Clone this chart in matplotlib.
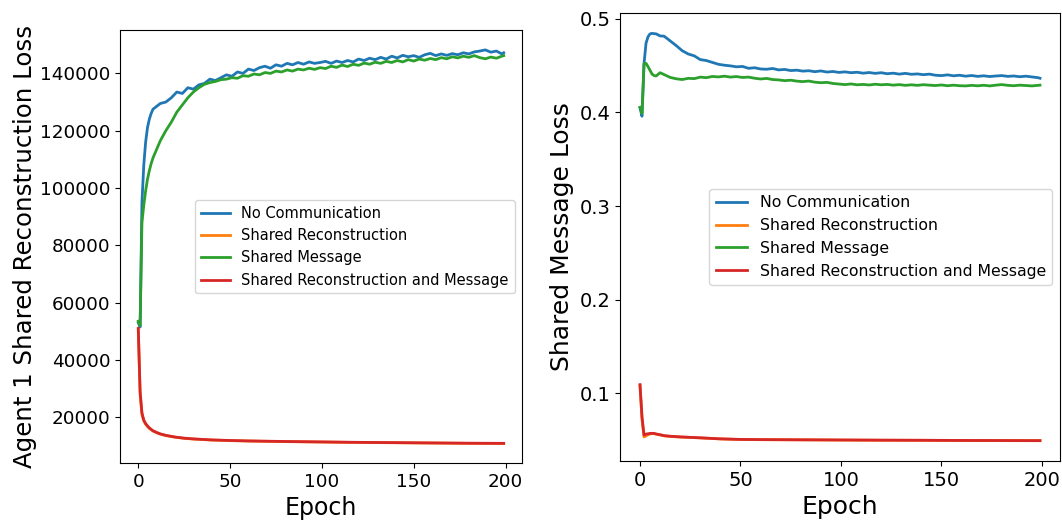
import matplotlib
matplotlib.use('Agg')
import matplotlib.pyplot as plt

epochs = [0, 1, 2, 3, 4, 5, 6, 7, 8, 10,
          12, 15, 18, 21, 24, 27, 30, 33, 36, 39,
          42, 45, 48, 51, 54, 57, 60, 63, 66, 69,
          72, 75, 78, 81, 84, 87, 90, 93, 96, 99,
          102, 105, 108, 111, 114, 117, 120, 123, 126, 129,
          132, 135, 138, 141, 144, 147, 150, 153, 156, 159,
          162, 165, 168, 171, 174, 177, 180, 183, 186, 189,
          192, 195, 198, 199]

# the smooth curves need fewer points
epochs_smooth = [0, 1, 2, 3, 4, 5, 6, 8, 10, 12, 15, 20, 25, 30, 40, 50,
                 60, 80, 100, 120, 140, 160, 180, 199]
epochs_msg_smooth = [0, 1, 2, 3, 4, 5, 6, 7, 8, 10, 12, 15, 20, 25, 30, 40,
                     50, 60, 80, 100, 120, 140, 160, 180, 199]

labels = ['No Communication', 'Shared Reconstruction', 'Shared Message',
          'Shared Reconstruction and Message']
colors = ['#1f77b4', '#ff7f0e', '#2ca02c', '#d62728']

# left panel: agent 1 shared reconstruction loss (thousands)
recon_none = [53.0, 51.5, 95, 108, 116, 121, 124, 126, 127.5, 128.5,
              129.5, 130, 131.5, 133.5, 133, 135, 134.5, 136, 136.5, 138,
              137.5, 138.5, 139.5, 139, 140.5, 140, 141.5, 141, 142, 142.5,
              141.8, 143, 142.5, 143.5, 143, 143.8, 143.2, 144, 143.5, 143.8,
              144.2, 143.5, 144.3, 143.8, 144.5, 144, 145, 144.5, 145.3, 144.8,
              145.6, 145, 146, 145.4, 146.3, 145.8, 146.2, 145.6, 146.5, 147,
              146.2, 146.8, 146.3, 146.9, 146.5, 147.2, 146.8, 147.5, 147.8, 148.2,
              147.4, 147.8, 146.8, 147.2]
recon_msg = [53.5, 52, 88, 94, 99, 103, 106, 108.5, 110.5, 113.5,
             116.5, 120, 123, 126.5, 129, 131.5, 133.5, 135, 136.2, 136.8,
             137.2, 137.8, 138, 138.5, 138.3, 139.2, 139, 139.8, 139.5, 140.3,
             140, 140.8, 140.5, 141.2, 140.8, 141.5, 141.2, 141.8, 141.4, 142,
             141.7, 142.5, 142.1, 142.9, 142.4, 143.2, 142.8, 143.6, 143.2, 143.9,
             143.5, 144.2, 143.8, 144.5, 144, 144.8, 144.3, 145, 144.6, 145.2,
             144.8, 145.5, 145.1, 145.8, 145.4, 146, 145.6, 146.2, 145.5, 145.1,
             145.7, 145.3, 146, 146.2]
recon_rec = [50.5, 28, 21, 18.7, 17.6, 16.8, 16.1, 15.2, 14.6, 14.1, 13.6,
             13.05, 12.65, 12.4, 12.05, 11.85, 11.7, 11.5, 11.35, 11.2, 11.1,
             11.0, 10.9, 10.85]
recon_both = [51, 29, 21.5, 19, 17.8, 17, 16.3, 15.3, 14.7, 14.2, 13.7,
              13.1, 12.7, 12.45, 12.1, 11.9, 11.75, 11.55, 11.4, 11.25, 11.15,
              11.05, 10.95, 10.9]

# right panel: shared message loss
msg_none = [0.405, 0.396, 0.452, 0.474, 0.481, 0.484, 0.4845, 0.4842, 0.484, 0.4818,
            0.4815, 0.4765, 0.4715, 0.466, 0.4625, 0.4605, 0.4565, 0.4555, 0.4535, 0.4515,
            0.4505, 0.4498, 0.4488, 0.4492, 0.4472, 0.4478, 0.4465, 0.4462, 0.4470, 0.4455,
            0.4460, 0.4448, 0.4452, 0.4442, 0.4446, 0.4436, 0.4444, 0.4432, 0.4438, 0.4428,
            0.4434, 0.4425, 0.4430, 0.4420, 0.4427, 0.4418, 0.4425, 0.4414, 0.4420, 0.4410,
            0.4418, 0.4408, 0.4412, 0.4404, 0.4410, 0.4398, 0.4394, 0.4402, 0.4392, 0.4398,
            0.4388, 0.4395, 0.4386, 0.4392, 0.4384, 0.4390, 0.4394, 0.4386, 0.4390, 0.4382,
            0.4388, 0.4380, 0.4372, 0.4366]
msg_msg = [0.4055, 0.399, 0.452, 0.4525, 0.449, 0.445, 0.441, 0.4395, 0.439, 0.4425,
           0.4405, 0.4375, 0.4360, 0.4352, 0.4365, 0.4362, 0.4378, 0.4372, 0.4385, 0.4380,
           0.4388, 0.4378, 0.4384, 0.4374, 0.4378, 0.4366, 0.4358, 0.4364, 0.4352, 0.4348,
           0.4340, 0.4345, 0.4335, 0.4330, 0.4336, 0.4324, 0.4318, 0.4322, 0.4310, 0.4304,
           0.4298, 0.4305, 0.4296, 0.4300, 0.4294, 0.4302, 0.4296, 0.4300, 0.4292, 0.4298,
           0.4290, 0.4296, 0.4290, 0.4297, 0.4292, 0.4288, 0.4294, 0.4286, 0.4292, 0.4286,
           0.4284, 0.4290, 0.4285, 0.4291, 0.4284, 0.4292, 0.4298, 0.4290, 0.4286, 0.4292,
           0.4288, 0.4284, 0.4290, 0.4292]
msg_rec = [0.1085, 0.072, 0.0535, 0.0545, 0.0558, 0.0566, 0.0570, 0.0570, 0.0564,
           0.0556, 0.0546, 0.0540, 0.0533, 0.0529, 0.0524, 0.0513, 0.0507, 0.0505,
           0.0503, 0.0501, 0.0499, 0.0498, 0.0496, 0.0495, 0.0494]
msg_both = [0.1093, 0.075, 0.0555, 0.0565, 0.0568, 0.0572, 0.0573, 0.0572, 0.0566,
            0.0558, 0.0548, 0.0542, 0.0535, 0.0530, 0.0525, 0.0514, 0.0508, 0.0506,
            0.0504, 0.0502, 0.0500, 0.0499, 0.0497, 0.0496, 0.0495]

fig = plt.figure(figsize=(10.62, 5.21), dpi=100)

# left panel
ax1 = fig.add_axes([0.113, 0.111, 0.3785, 0.831])
ax1.plot(epochs, [v * 1000 for v in recon_none], c=colors[0], lw=2, label=labels[0])
ax1.plot(epochs_smooth, [v * 1000 for v in recon_rec], c=colors[1], lw=2, label=labels[1])
ax1.plot(epochs, [v * 1000 for v in recon_msg], c=colors[2], lw=2, label=labels[2])
ax1.plot(epochs_smooth, [v * 1000 for v in recon_both], c=colors[3], lw=2, label=labels[3])
ax1.set_xlabel('Epoch', fontsize=17)
ax1.set_ylabel('Agent 1 Shared Reconstruction Loss', fontsize=17.6, labelpad=2)
ax1.tick_params(labelsize=13.2)
ax1.set_xticks([0, 50, 100, 150, 200])
ax1.legend(loc='center right', fontsize=10.5)

# right panel
ax2 = fig.add_axes([0.5838, 0.115, 0.4143, 0.86])
ax2.plot(epochs, msg_none, c=colors[0], lw=2, label=labels[0])
ax2.plot(epochs_msg_smooth, msg_rec, c=colors[1], lw=2, label=labels[1])
ax2.plot(epochs, msg_msg, c=colors[2], lw=2, label=labels[2])
ax2.plot(epochs_msg_smooth, msg_both, c=colors[3], lw=2, label=labels[3])
ax2.set_xlabel('Epoch', fontsize=18)
ax2.set_ylabel('Shared Message Loss', fontsize=18)
ax2.tick_params(labelsize=14)
ax2.set_xticks([0, 50, 100, 150, 200])
ax2.set_yticks([0.1, 0.2, 0.3, 0.4, 0.5])
ax2.legend(loc='center right', fontsize=11.3)

fig.savefig('out.png', dpi=100)
